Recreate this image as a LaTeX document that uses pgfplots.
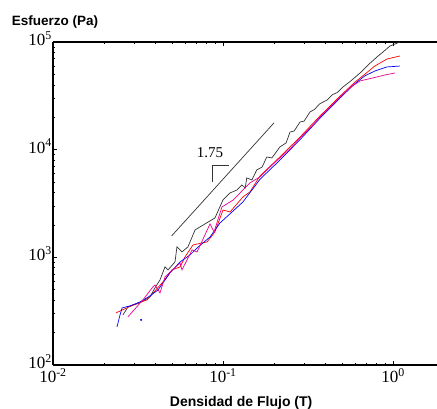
\documentclass[border=0pt]{standalone}
\usepackage{fontspec}
\setmainfont{Liberation Serif}
\setsansfont{Liberation Sans}
\usepackage{pgfplots}
\pgfplotsset{compat=1.18}
\begin{document}
\begin{tikzpicture}
\begin{axis}[
    scale only axis, width=384pt, height=323pt,
    xmode=log, ymode=log,
    xmin=0.01, xmax=1.815, ymin=100, ymax=100000,
    axis x line*=box, axis y line*=left,
    axis line style={-, line width=1.1pt},
    tick align=inside,
    major tick length=4pt, minor tick length=2.5pt,
    tick style={black, line width=0.6pt},
    xtick={0.01,0.1,1},
    xticklabels={10\textsuperscript{-2},10\textsuperscript{-1},10\textsuperscript{0}},
    ytick={100,1000,10000,100000},
    yticklabels={10\textsuperscript{2},10\textsuperscript{3},10\textsuperscript{4},10\textsuperscript{5}},
    tick label style={font=\fontsize{17}{19}\selectfont, inner sep=1pt},
    yticklabel style={yshift=3.5pt},
    xticklabel style={yshift=-2.5pt},
    xticklabel pos=bottom,
    clip=false,
    every axis plot/.append style={line width=0.7pt, mark=none},
]
% black curve
\addplot[black!80] coordinates {
 (0.0258,292) (0.0276,346) (0.0325,378) (0.0372,428) (0.0398,520) (0.0426,617)
 (0.0456,815) (0.0475,764) (0.0522,906) (0.0536,1250) (0.0574,1122) (0.0622,1250)
 (0.0685,1795) (0.0732,1915) (0.0897,2323) (0.1,3413) (0.110,3963) (0.121,4225)
 (0.129,4700) (0.135,4406) (0.138,5458) (0.148,5236) (0.158,6486) (0.170,6900)
 (0.181,8550) (0.194,8375) (0.216,10590) (0.235,11540) (0.248,14590) (0.262,14900)
 (0.284,18070) (0.300,18400) (0.325,22390) (0.345,23600) (0.370,26600) (0.409,28900)
 (0.440,32400) (0.470,33900) (0.508,38200) (0.560,43000) (0.640,51540) (0.720,62000)
 (0.805,72600) (0.880,81500) (0.960,91800) (1.099,100000)
};
% red curve
\addplot[red] coordinates {
 (0.0235,305) (0.0296,361) (0.0357,402) (0.0444,592) (0.0501,764) (0.0559,815)
 (0.0598,1009) (0.0666,1303) (0.0806,1390) (0.0897,1722) (0.1,2754) (0.110,2636)
 (0.131,3640) (0.144,4047) (0.165,5700) (0.216,8550) (0.284,13100) (0.372,20550)
 (0.488,31400) (0.597,42300) (0.684,50300) (0.783,59850) (0.922,69500) (1.099,74130)
};
% blue curve
\addplot[blue] coordinates {
 (0.0238,226) (0.0248,292) (0.0255,339) (0.0284,354) (0.0325,385) (0.0372,438)
 (0.0415,498) (0.0488,716) (0.0559,906) (0.064,1052) (0.0704,1222) (0.0839,1545)
 (0.096,2084) (0.131,3266) (0.165,5300) (0.216,8000) (0.284,12400) (0.372,19600)
 (0.488,30200) (0.597,41000) (0.684,48500) (0.783,53800) (0.922,58660) (1.099,59780)
};
\addplot[blue, only marks, mark=*, mark size=0.6pt] coordinates {(0.033,262)};
% magenta curve
\addplot[magenta] coordinates {
 (0.0276,280) (0.0338,402) (0.0387,531) (0.0398,554) (0.0426,467) (0.0456,658)
 (0.0559,887) (0.0574,764) (0.0658,1172) (0.0704,1122) (0.0783,1614) (0.0839,2042)
 (0.0886,1722) (0.0986,2938) (0.115,3413) (0.126,3963) (0.144,4910) (0.165,5585)
 (0.189,6900) (0.216,8375) (0.250,10300) (0.284,12850) (0.330,16300) (0.372,20150)
 (0.430,25200) (0.488,30830) (0.560,37800) (0.640,43490) (0.763,46380) (0.897,49400)
 (1.028,51540)
};
% slope 1.75 guide
\addplot[black!80] coordinates {(0.0499,1581) (0.2,17800)};
\addplot[black!80, line width=0.6pt] coordinates {(0.0869,5047) (0.0869,7210) (0.1084,7210)};
\node[font=\fontsize{15}{17}\selectfont] at (axis cs:0.0839,9310) {1.75};
\node[font=\sffamily\bfseries\fontsize{13.5}{16}\selectfont] at (rel axis cs:0.005,1.063) {Esfuerzo (Pa)};
\node[font=\sffamily\bfseries\fontsize{14}{16}\selectfont] at (rel axis cs:0.49,-0.118) {Densidad de Flujo (T)};
\coordinate (bl) at (rel axis cs:-0.138,-0.136);
\coordinate (tr) at (rel axis cs:1,1.130);
\end{axis}
\pgfresetboundingbox
\path[use as bounding box] (bl) rectangle (tr);
\end{tikzpicture}
\end{document}
